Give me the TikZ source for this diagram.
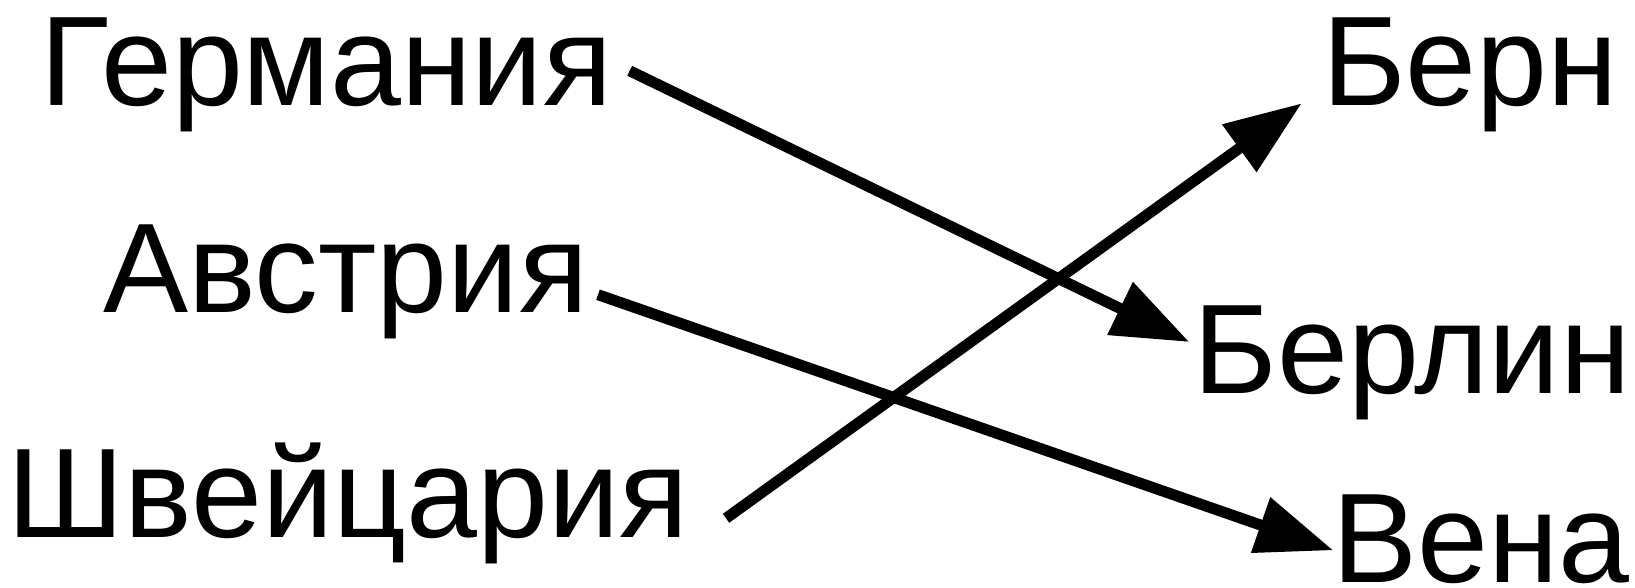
\documentclass[tikz,border=0pt]{standalone}
\usepackage{fontspec}
\setmainfont{Liberation Sans}
\usetikzlibrary{arrows.meta}
\begin{document}
\begin{tikzpicture}[x=1pt,y=-1pt,
  lbl/.style={anchor=base west, inner sep=0pt, outer sep=0pt, font=\fontsize{127.5}{130}\selectfont},
  arr/.style={line width=11pt, -{Triangle[length=77pt,width=56pt]}}]
\useasboundingbox[fill=white] (0,0) rectangle (1635,588);
\node[lbl] (ger) at (40.5,106) {Германия};
\node[lbl] (aut) at (103.5,312.7) {Австрия};
\node[lbl] (sui) at (8,537.5) {Швейцария};
\node[lbl] (bern) at (1322,106) {Берн};
\node[lbl] (berlin) at (1193.5,393.7) {Берлин};
\node[lbl] (wien) at (1332.5,582.5) {Вена};
\coordinate (g0) at (629.7,70.8);
\coordinate (g1) at (1189.3,342);
\coordinate (a0) at (598,294.7);
\coordinate (a1) at (1333.3,550.3);
\coordinate (s0) at (726,518.3);
\coordinate (s1) at (1301.7,103.3);
\draw[arr] (g0) -- (g1);
\draw[arr] (a0) -- (a1);
\draw[arr] (s0) -- (s1);
\end{tikzpicture}
\end{document}
